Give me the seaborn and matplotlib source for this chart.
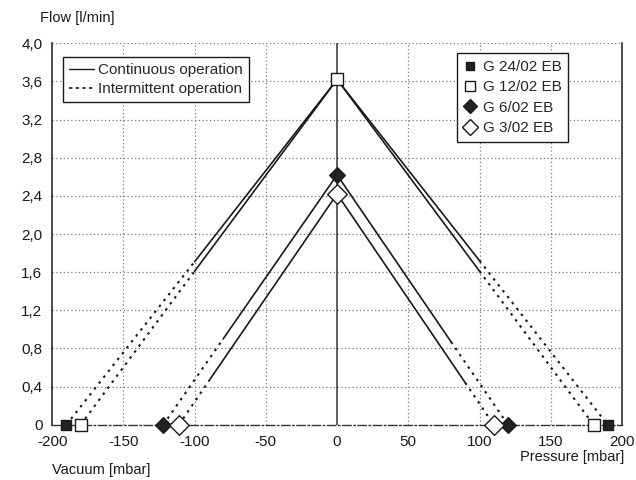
import numpy as np
import pandas as pd
import matplotlib
matplotlib.use("Agg")
import matplotlib.pyplot as plt
from matplotlib.lines import Line2D
import seaborn as sns

# pump models and values
models = ["G 24/02 EB", "G 12/02 EB", "G 6/02 EB", "G 3/02 EB"]
peak_flow = [3.62, 3.62, 2.62, 2.42]          # l/min at 0 mbar
vac_end = [-190, -180, -122, -111]             # mbar, flow = 0
press_end = [190, 180, 120, 110]               # mbar, flow = 0
cont_vac = [-100, -100, -80, -90]              # end of continuous range (vacuum)
cont_vac_flow = [1.71, 1.61, 0.90, 0.46]
cont_press = [100, 100, 80, 90]                # end of continuous range (pressure)
cont_press_flow = [1.72, 1.61, 0.87, 0.44]

markers = ["s", "s", "D", "D"]
faces = ["#222222", "white", "#222222", "white"]
msizes = [7, 9, 8, 10]

x_ticks = [-200, -150, -100, -50, 0, 50, 100, 150, 200]
y_ticks = [0, 0.4, 0.8, 1.2, 1.6, 2.0, 2.4, 2.8, 3.2, 3.6, 4.0]
y_labels = ["0"] + [f"{v:.1f}".replace(".", ",") for v in y_ticks[1:]]

sns.set_theme(style="white")
plt.rcParams["font.family"] = ["Liberation Sans", "DejaVu Sans"]

fig = plt.figure(figsize=(6.36, 4.8), dpi=100)
ax = fig.add_axes([0.082, 0.115, 0.896, 0.795])

# grid
for xv in x_ticks:
    if xv in (-200, 0, 200):
        continue
    ax.axvline(xv, color="#7a7a7a", lw=0.9, ls=(0, (1, 2)), zorder=0)
for yv in y_ticks[1:]:
    ax.axhline(yv, color="#7a7a7a", lw=0.9, ls=(0, (1, 2)), zorder=0)
ax.axvline(0, color="#333333", lw=1.1, zorder=1)

rows_solid, rows_dot = [], []
for i, m in enumerate(models):
    rows_solid += [(m, "v", cont_vac[i], cont_vac_flow[i]), (m, "v", 0, peak_flow[i]),
                   (m, "p", 0, peak_flow[i]), (m, "p", cont_press[i], cont_press_flow[i])]
    rows_dot += [(m, "v", vac_end[i], 0), (m, "v", cont_vac[i], cont_vac_flow[i]),
                 (m, "p", cont_press[i], cont_press_flow[i]), (m, "p", press_end[i], 0)]
solid = pd.DataFrame(rows_solid, columns=["model", "side", "mbar", "flow"])
dot = pd.DataFrame(rows_dot, columns=["model", "side", "mbar", "flow"])
solid["seg"] = solid["model"] + solid["side"]
dot["seg"] = dot["model"] + dot["side"]

sns.lineplot(data=solid, x="mbar", y="flow", units="seg", estimator=None, sort=False,
             color="#1a1a1a", lw=1.2, ax=ax, legend=False, zorder=2)
sns.lineplot(data=dot, x="mbar", y="flow", units="seg", estimator=None, sort=False,
             color="#1a1a1a", lw=1.5, ls=(0, (1.2, 2.4)), ax=ax, legend=False, zorder=2)

for i, m in enumerate(models):
    pts = pd.DataFrame({"mbar": [vac_end[i], 0, press_end[i]], "flow": [0, peak_flow[i], 0]})
    sns.scatterplot(data=pts, x="mbar", y="flow", marker=markers[i], s=msizes[i] ** 2,
                    color=faces[i], edgecolor="#1a1a1a", linewidth=1.0, ax=ax,
                    clip_on=False, zorder=5 + i, legend=False)

ax.set_xlim(-200, 200)
ax.set_ylim(0, 4.0)
ax.set_xticks(x_ticks)
ax.set_xticklabels([str(v) for v in x_ticks], fontsize=11)
ax.set_yticks(y_ticks)
ax.set_yticklabels(y_labels, fontsize=11)
ax.tick_params(axis="x", direction="inout", length=6, width=1, pad=4, colors="#1a1a1a")
ax.tick_params(axis="y", direction="out", length=4, width=1, pad=3, colors="#1a1a1a")
ax.set_xlabel("")
ax.set_ylabel("")

for s in ["left", "right"]:
    ax.spines[s].set_color("#1a1a1a")
    ax.spines[s].set_linewidth(1.1)
ax.spines["top"].set_visible(False)
ax.spines["bottom"].set_color("#333333")
ax.spines["bottom"].set_linestyle((0, (6, 2, 1, 2)))
ax.spines["bottom"].set_linewidth(1.0)

# legends
op_handles = [Line2D([], [], color="#1a1a1a", lw=1.0),
              Line2D([], [], color="#1a1a1a", lw=1.2, ls=(0, (2, 2)))]
leg1 = ax.legend(op_handles, ["Continuous operation", "Intermittent operation"],
                 loc="upper left", bbox_to_anchor=(0.019, 0.963), borderaxespad=0,
                 fontsize=11, handlelength=1.6, handletextpad=0.3, borderpad=0.4,
                 labelspacing=0.3, frameon=True, fancybox=False, edgecolor="#1a1a1a",
                 framealpha=1)
leg1.get_frame().set_linewidth(1.0)
ax.add_artist(leg1)

mk_handles = [Line2D([], [], ls="none", marker=markers[i], markersize=msizes[i] * 0.85,
                     markerfacecolor=faces[i], markeredgecolor="#1a1a1a", markeredgewidth=1.0)
              for i in range(len(models))]
leg2 = ax.legend(mk_handles, models, loc="upper left", bbox_to_anchor=(0.711, 0.974),
                 borderaxespad=0, fontsize=11, handlelength=0.8, handletextpad=0.4,
                 borderpad=0.45, labelspacing=0.42, frameon=True, fancybox=False,
                 edgecolor="#1a1a1a", framealpha=1)
leg2.get_frame().set_linewidth(1.0)

fig.text(0.063, 0.962, "Flow [l/min]", fontsize=10.5, ha="left", va="center", color="#1a1a1a")
fig.text(0.082, 0.021, "Vacuum [mbar]", fontsize=10.5, ha="left", va="center", color="#1a1a1a")
fig.text(0.982, 0.048, "Pressure [mbar]", fontsize=10.5, ha="right", va="center", color="#1a1a1a")

fig.savefig("out.png", dpi=100, facecolor="white")
